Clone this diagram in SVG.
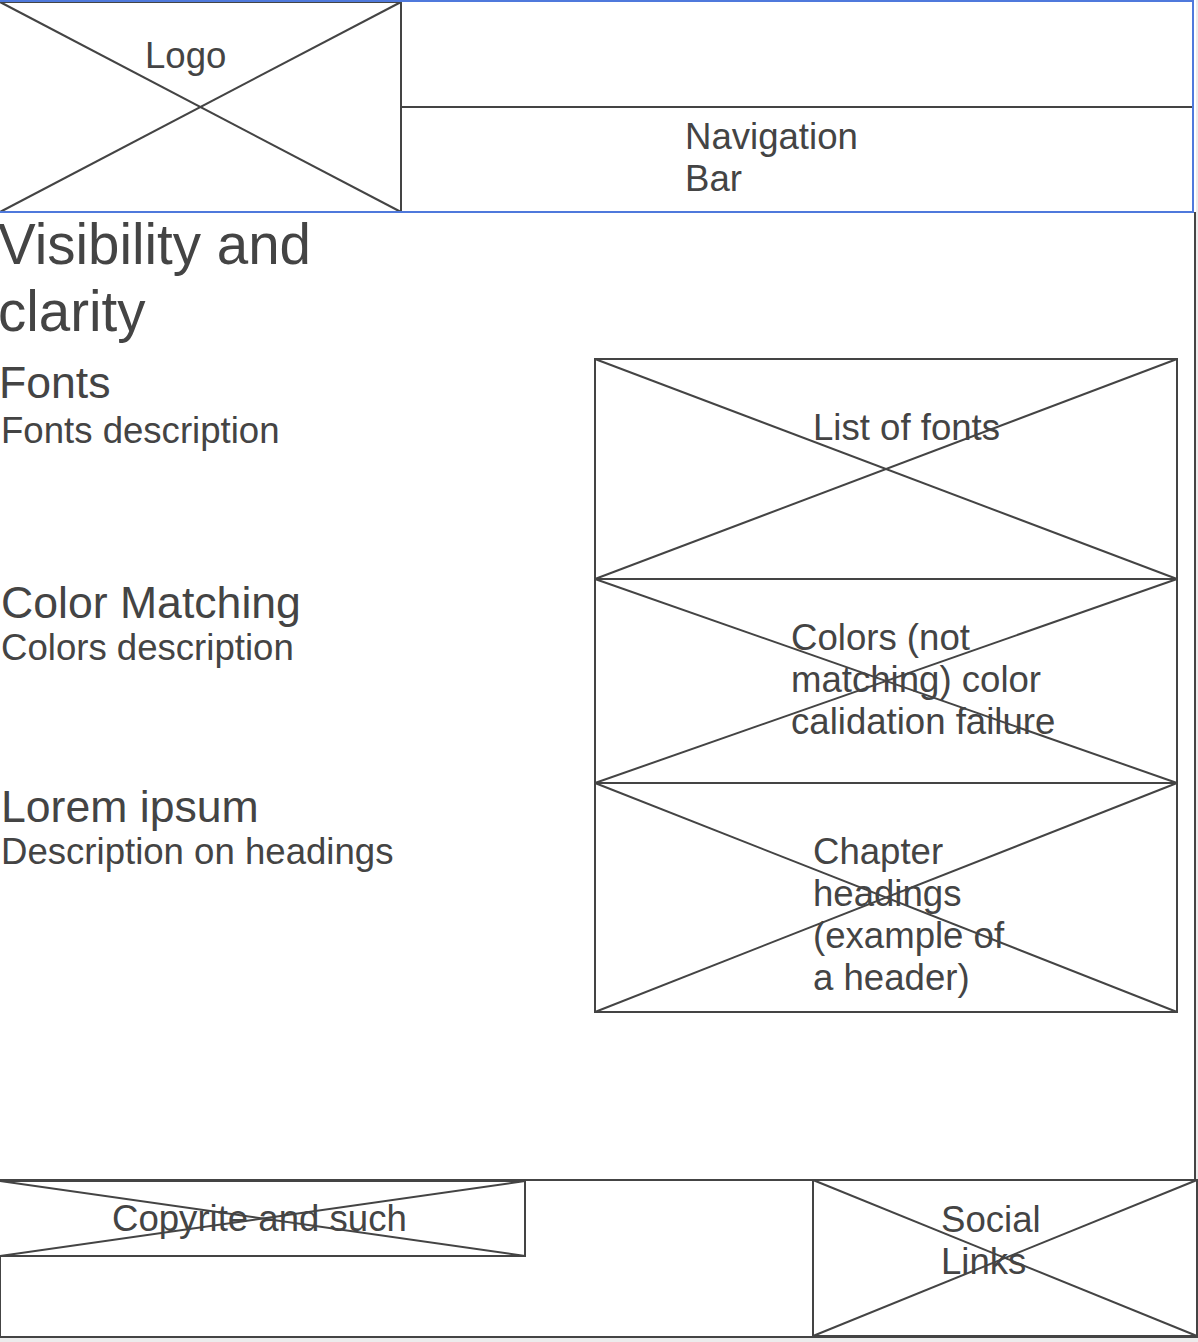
<svg xmlns="http://www.w3.org/2000/svg" width="1198" height="1342" viewBox="0 0 1198 1342">
<style>
.ln{stroke:#444;stroke-width:2;fill:none}
.box{stroke:#444;stroke-width:2;fill:#fff}
.blue{stroke:#4f79dc;stroke-width:2;fill:none}
.t{font-family:"Liberation Sans",Arial,sans-serif;fill:#444;font-size:36.6px}
.h{font-size:44.6px}
.ti{font-size:56.5px}
</style>
<rect x="0" y="0" width="1198" height="1342" fill="#fff"/>
<rect x="1196" y="0" width="2" height="1342" fill="#ececec"/>
<rect x="0" y="1338" width="1198" height="4" fill="#ececec"/>
<g id="page">
<line class="ln" x1="1195" y1="212" x2="1195" y2="1180"/>
</g>
<g id="footer">
<rect class="ln" x="0" y="1180" width="1197" height="157"/>
</g>
<g id="logo">
<rect class="box" x="-1" y="2" width="402" height="210"/>
<line class="ln" x1="0" y1="2" x2="401" y2="212"/>
<line class="ln" x1="0" y1="212" x2="401" y2="2"/>
<text class="t" x="145" y="68">Logo</text>
</g>
<g id="nav">
<rect class="ln" x="401" y="107" width="792" height="105"/>
<text class="t" x="685" y="149">Navigation</text>
<text class="t" x="685" y="191">Bar</text>
</g>
<g id="header">
<rect class="blue" x="-1" y="1" width="1194" height="211"/>
</g>
<g id="title">
<text class="t ti" x="-2" y="264">Visibility and</text>
<text class="t ti" x="-2" y="331">clarity</text>
</g>
<g id="fonts-text">
<text class="t h" x="-1" y="398">Fonts</text>
<text class="t" x="1" y="443">Fonts description</text>
</g>
<g id="colors-text">
<text class="t h" x="1" y="618">Color Matching</text>
<text class="t" x="1" y="660">Colors description</text>
</g>
<g id="lorem-text">
<text class="t h" x="1" y="822">Lorem ipsum</text>
<text class="t" x="1" y="864">Description on headings</text>
</g>
<g id="list-fonts">
<rect class="box" x="595" y="359" width="582" height="220"/>
<line class="ln" x1="595" y1="359" x2="1177" y2="579"/>
<line class="ln" x1="595" y1="579" x2="1177" y2="359"/>
<text class="t" x="813" y="440">List of fonts</text>
</g>
<g id="colors-box">
<rect class="box" x="595" y="579" width="582" height="204"/>
<line class="ln" x1="595" y1="579" x2="1177" y2="783"/>
<line class="ln" x1="595" y1="783" x2="1177" y2="579"/>
<text class="t" x="791" y="650">Colors (not</text>
<text class="t" x="791" y="692">matching) color</text>
<text class="t" x="791" y="734">calidation failure</text>
</g>
<g id="chapter-box">
<rect class="box" x="595" y="783" width="582" height="229"/>
<line class="ln" x1="595" y1="783" x2="1177" y2="1012"/>
<line class="ln" x1="595" y1="1012" x2="1177" y2="783"/>
<text class="t" x="813" y="864">Chapter</text>
<text class="t" x="813" y="906">headings</text>
<text class="t" x="813" y="948">(example of</text>
<text class="t" x="813" y="990">a header)</text>
</g>
<g id="copyright">
<rect class="box" x="-1" y="1181" width="526" height="75"/>
<line class="ln" x1="0" y1="1181" x2="525" y2="1256"/>
<line class="ln" x1="0" y1="1256" x2="525" y2="1181"/>
<text class="t" x="112" y="1231">Copyrite and such</text>
</g>
<g id="social">
<rect class="box" x="813" y="1180" width="384" height="156"/>
<line class="ln" x1="813" y1="1180" x2="1197" y2="1336"/>
<line class="ln" x1="813" y1="1336" x2="1197" y2="1180"/>
<text class="t" x="941" y="1232">Social</text>
<text class="t" x="941" y="1274">Links</text>
</g>
<g id="connectors"></g>
</svg>
